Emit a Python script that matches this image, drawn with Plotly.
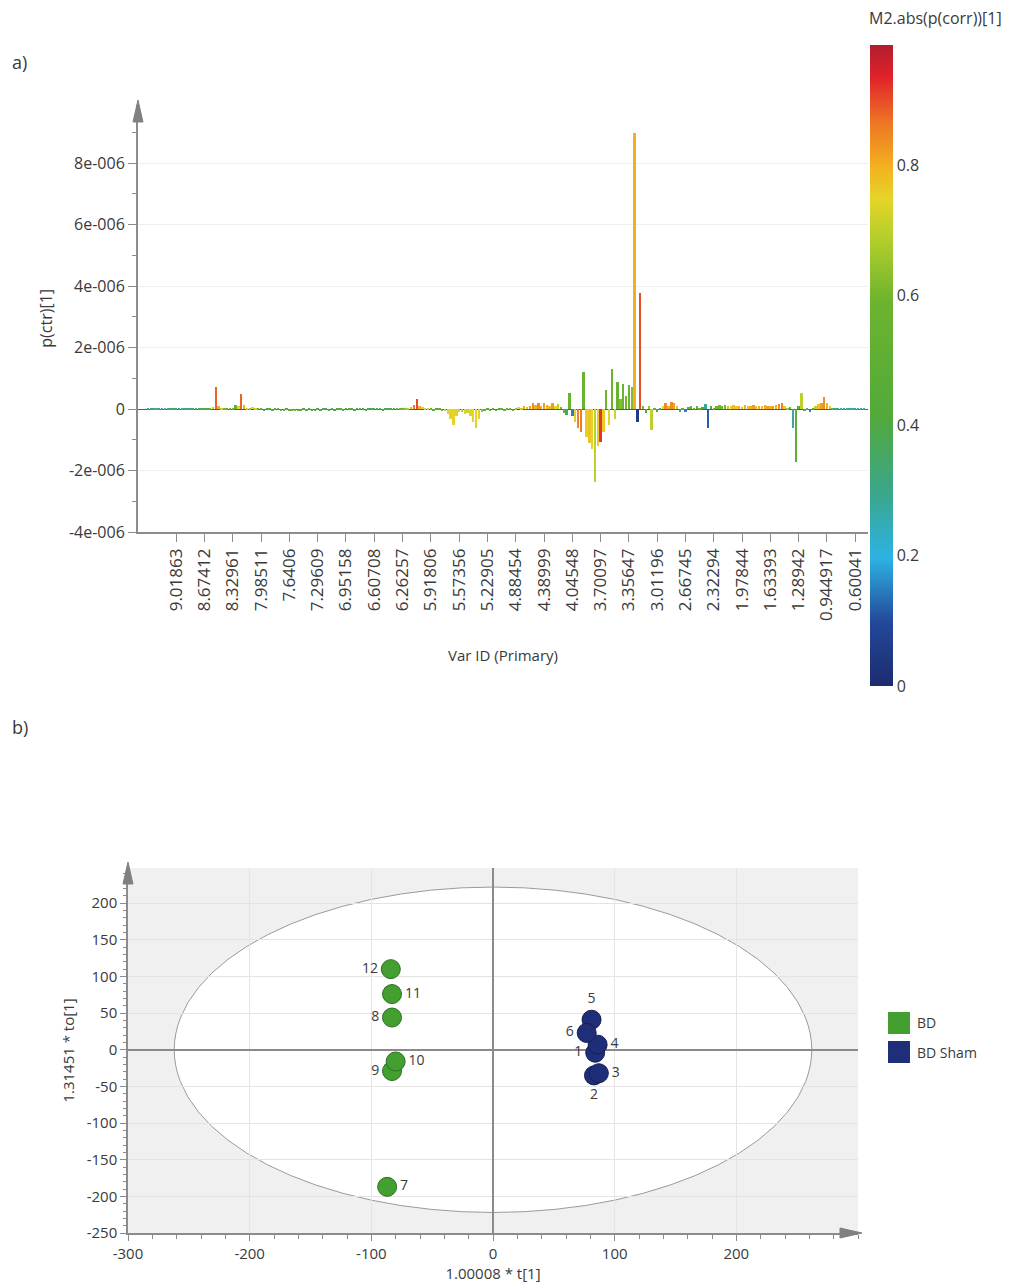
import plotly.graph_objects as go

# ---------------- DATA ----------------
# a) loading line plot: p(ctr)[1] (in units of 1e-6) per variable, coloured by abs(p(corr))[1]
p_ctr_e6 = [
    0.03, 0.04, 0.03, 0.04, 0.03, 0.03, 0.04, 0.03, 0.04, 0.03,
    0.03, 0.04, 0.03, 0.03, 0.04, 0.02, 0.03, 0.04, 0.03, 0.03,
    0.04, 0.03, 0.05, 0.08, 0.72, 0.12, 0.06, 0.04, 0.03, 0.05,
    0.06, 0.15, 0.10, 0.49, 0.14, 0.06, 0.04, 0.09, 0.06, 0.03,
    0.03, -0.03, 0.03, 0.04, -0.03, 0.03, 0.03, -0.04, -0.04, 0.03,
    -0.04, -0.05, -0.05, -0.04, -0.03, 0.03, -0.04, 0.04, -0.03, -0.04,
    0.03, -0.04, 0.03, 0.04, -0.03, 0.03, -0.04, 0.04, 0.03, -0.03,
    0.04, 0.03, 0.03, -0.04, 0.03, 0.04, 0.03, -0.03, 0.03, 0.04,
    0.03, 0.03, 0.04, -0.03, 0.03, 0.03, 0.04, 0.03, 0.03, 0.04,
    0.03, 0.04, 0.05, 0.08, 0.15, 0.33, 0.12, 0.08, 0.06, 0.05,
    0.03, -0.03, 0.03, 0.04, -0.04, -0.06, -0.15, -0.30, -0.52, -0.22,
    -0.10, -0.08, -0.14, -0.12, -0.22, -0.42, -0.60, -0.30, -0.10, -0.06,
    0.04, -0.05, 0.05, -0.04, 0.05, 0.04, -0.05, 0.06, 0.05, -0.04,
    0.06, 0.08, 0.05, 0.10, 0.08, 0.12, 0.20, 0.15, 0.22, 0.12,
    0.20, 0.15, 0.12, 0.22, 0.10, 0.18, 0.08, -0.12, -0.18, 0.52,
    -0.22, -0.40, -0.62, -0.75, 1.22, -0.90, -1.10, -1.30, -2.37, -1.20,
    -1.07, -0.75, 0.62, -0.50, 1.33, -0.30, 0.88, 0.35, 0.82, 0.45,
    0.80, 0.72, 9.00, -0.42, 3.77, 0.12, -0.12, 0.10, -0.68, 0.06,
    -0.10, 0.06, 0.10, 0.20, 0.12, 0.25, 0.22, 0.10, -0.08, 0.06,
    -0.10, 0.08, 0.12, 0.05, 0.10, 0.06, 0.08, 0.18, -0.62, 0.10,
    0.06, 0.10, 0.15, 0.12, 0.14, 0.10, 0.12, 0.15, 0.10, 0.12,
    0.08, 0.15, 0.10, 0.12, 0.15, 0.10, 0.12, 0.10, 0.14, 0.12,
    0.10, 0.12, 0.15, 0.18, 0.22, 0.10, 0.06, 0.08, -0.60, -1.72,
    0.10, 0.52, -0.05, 0.06, -0.08, 0.05, 0.10, 0.18, 0.20, 0.40,
    0.22, 0.12, 0.06, 0.04, 0.03, 0.04, 0.03, 0.03, 0.04, 0.03,
    0.03, 0.03, 0.02, 0.03,
]
abs_p_corr = [
    0.35, 0.30, 0.35, 0.25, 0.35, 0.30, 0.25, 0.35, 0.30, 0.35,
    0.30, 0.35, 0.25, 0.35, 0.30, 0.35, 0.30, 0.35, 0.30, 0.40,
    0.40, 0.45, 0.55, 0.70, 0.88, 0.80, 0.72, 0.60, 0.50, 0.55,
    0.60, 0.58, 0.75, 0.88, 0.80, 0.74, 0.65, 0.76, 0.72, 0.50,
    0.40, 0.35, 0.40, 0.45, 0.40, 0.45, 0.50, 0.50, 0.55, 0.45,
    0.50, 0.55, 0.55, 0.50, 0.45, 0.40, 0.50, 0.45, 0.40, 0.45,
    0.40, 0.45, 0.35, 0.40, 0.45, 0.35, 0.40, 0.45, 0.40, 0.35,
    0.40, 0.45, 0.40, 0.35, 0.40, 0.45, 0.40, 0.35, 0.40, 0.35,
    0.40, 0.35, 0.45, 0.40, 0.35, 0.40, 0.45, 0.40, 0.50, 0.55,
    0.60, 0.65, 0.70, 0.80, 0.86, 0.90, 0.80, 0.76, 0.74, 0.72,
    0.55, 0.50, 0.45, 0.50, 0.55, 0.70, 0.74, 0.75, 0.75, 0.74,
    0.72, 0.70, 0.74, 0.72, 0.74, 0.75, 0.75, 0.74, 0.65, 0.55,
    0.50, 0.55, 0.50, 0.45, 0.50, 0.55, 0.50, 0.55, 0.60, 0.50,
    0.65, 0.75, 0.70, 0.80, 0.78, 0.82, 0.84, 0.80, 0.84, 0.80,
    0.82, 0.80, 0.78, 0.82, 0.75, 0.70, 0.60, 0.55, 0.35, 0.58,
    0.15, 0.76, 0.85, 0.86, 0.58, 0.76, 0.77, 0.75, 0.70, 0.76,
    0.92, 0.76, 0.60, 0.74, 0.58, 0.72, 0.56, 0.62, 0.58, 0.60,
    0.58, 0.62, 0.80, 0.05, 0.90, 0.60, 0.45, 0.65, 0.70, 0.55,
    0.40, 0.30, 0.75, 0.84, 0.80, 0.84, 0.82, 0.70, 0.30, 0.50,
    0.15, 0.50, 0.55, 0.45, 0.55, 0.50, 0.40, 0.30, 0.12, 0.40,
    0.50, 0.58, 0.60, 0.58, 0.60, 0.70, 0.75, 0.78, 0.76, 0.80,
    0.78, 0.80, 0.78, 0.80, 0.82, 0.78, 0.80, 0.78, 0.80, 0.82,
    0.80, 0.82, 0.80, 0.84, 0.85, 0.76, 0.65, 0.55, 0.28, 0.50,
    0.45, 0.70, 0.30, 0.50, 0.15, 0.45, 0.70, 0.78, 0.82, 0.84,
    0.80, 0.72, 0.50, 0.35, 0.30, 0.25, 0.30, 0.25, 0.30, 0.25,
    0.30, 0.25, 0.30, 0.25,
]
var_tick_index = [10, 20, 30, 40, 50, 60, 70, 80, 90, 100, 110, 120, 130,
                  140, 150, 160, 170, 180, 190, 200, 210, 220, 230, 240, 250]
var_tick_labels = ["9.01863", "8.67412", "8.32961", "7.98511", "7.6406", "7.29609",
                   "6.95158", "6.60708", "6.26257", "5.91806", "5.57356", "5.22905",
                   "4.88454", "4.38999", "4.04548", "3.70097", "3.35647", "3.01196",
                   "2.66745", "2.32294", "1.97844", "1.63393", "1.28942", "0.944917",
                   "0.60041"]
y_tick_vals = [-4e-6, -2e-6, 0, 2e-6, 4e-6, 6e-6, 8e-6]
y_tick_text = ["-4e-006", "-2e-006", "0", "2e-006", "4e-006", "6e-006", "8e-006"]
cbar_ticks = [0, 0.2, 0.4, 0.6, 0.8]

# b) score plot
bd_ids = ["7", "8", "9", "10", "11", "12"]
bd_t = [-87, -83, -83, -80, -83, -84]
bd_to = [-187, 44, -29, -16, 76, 110]
sham_ids = ["1", "2", "3", "4", "5", "6"]
sham_t = [84, 83, 87, 86, 81, 77]
sham_to = [-4, -35, -32, 7, 41, 23]
ellipse_t = 262
ellipse_to = 222
score_x_ticks = [-300, -200, -100, 0, 100, 200]
score_y_ticks = [-250, -200, -150, -100, -50, 0, 50, 100, 150, 200]
groups = ["BD", "BD Sham"]

# ---------------- STYLE HELPERS ----------------
W, H = 1020, 1287
def px(x): return x / W
def py(y): return 1 - y / H

FONT = "Open Sans"
TXT = "#3a3a3a"
AX = "#8c8c8c"
GREEN = "#43a030"
NAVY = "#1f2e78"

colorscale = [
    [0.00, "#1d2b6e"], [0.10, "#23489a"], [0.20, "#2db3e3"], [0.30, "#3aa68c"],
    [0.42, "#52a93b"], [0.60, "#6cb42e"], [0.70, "#b5cf2b"], [0.76, "#e6d428"],
    [0.81, "#f3b11f"], [0.88, "#ee7424"], [0.95, "#e0222a"], [1.00, "#b21d2e"],
]
CMAX = 0.985

fig = go.Figure()

n = len(p_ctr_e6)
fig.add_trace(go.Bar(
    x=list(range(n)), y=[v * 1e-6 for v in p_ctr_e6],
    width=0.85, xaxis="x", yaxis="y", showlegend=False,
    marker=dict(color=abs_p_corr, colorscale=colorscale, cmin=0, cmax=CMAX,
                line=dict(width=0),
                colorbar=dict(x=px(870), xanchor="left", xpad=0, ypad=0,
                              y=py(365.5), yanchor="middle",
                              len=641, lenmode="pixels", thickness=23,
                              outlinewidth=0, ticks="",
                              tickvals=cbar_ticks,
                              ticktext=[("%g" % t) for t in cbar_ticks],
                              tickfont=dict(family=FONT, size=16, color=TXT))),
))

# score plot
fig.add_trace(go.Scatter(
    x=bd_t, y=bd_to, text=bd_ids, mode="markers+text", name=groups[0],
    xaxis="x2", yaxis="y2", showlegend=False,
    textposition=["middle right", "middle left", "middle left", "middle right",
                  "middle right", "middle left"],
    textfont=dict(family=FONT, size=14, color=TXT),
    marker=dict(size=19, color=GREEN, line=dict(color="#2d6e22", width=1)),
))
fig.add_trace(go.Scatter(
    x=sham_t, y=sham_to, text=sham_ids, mode="markers+text", name=groups[1],
    xaxis="x2", yaxis="y2", showlegend=False,
    textposition=["middle left", "bottom center", "middle right", "middle right",
                  "top center", "middle left"],
    textfont=dict(family=FONT, size=14, color=TXT),
    marker=dict(size=19, color=NAVY, line=dict(color="#151f55", width=1)),
))

fig.update_layout(
    width=W, height=H, margin=dict(l=0, r=0, t=0, b=0, autoexpand=False),
    paper_bgcolor="white", plot_bgcolor="white",
    font=dict(family=FONT, color=TXT),
    bargap=0, showlegend=False,
    xaxis=dict(domain=[px(138), px(868)], range=[-3.5, 254.5], automargin=False,
               tickvals=var_tick_index, ticktext=var_tick_labels, tickangle=-90,
               tickfont=dict(size=17, color=TXT), ticks="outside", ticklen=8,
               tickcolor=AX, showgrid=False, zeroline=False,
               showline=True, linecolor=AX, linewidth=1.5,
               title=dict(text="Var ID (Primary)", font=dict(size=15, color=TXT), standoff=30),
               anchor="y"),
    yaxis=dict(domain=[py(532), py(104.6)], range=[-4e-6, 9.9e-6], automargin=False,
               tickvals=y_tick_vals, ticktext=y_tick_text,
               tickfont=dict(size=16, color=TXT), ticks="outside", ticklen=8,
               tickcolor=AX, showgrid=True, gridcolor="#efefef",
               zeroline=True, zerolinecolor="#4a5a7a", zerolinewidth=1,
               showline=True, linecolor=AX, linewidth=2,
               minor=dict(dtick=1e-6, tick0=0, ticks="outside", ticklen=4,
                          tickcolor=AX, showgrid=False),
               title=dict(text="p(ctr)[1]", font=dict(size=16, color=TXT), standoff=12),
               anchor="x"),
    xaxis2=dict(domain=[px(128), px(858)], range=[-300, 300], automargin=False,
                tickvals=score_x_ticks, ticktext=[str(v) for v in score_x_ticks],
                tickfont=dict(size=15, color=TXT), ticks="outside", ticklen=6,
                tickcolor=AX, showgrid=True, gridcolor="#e4e4e4",
                zeroline=True, zerolinecolor="#8a8a8a", zerolinewidth=1.5,
                showline=True, linecolor=AX, linewidth=1.5,
                minor=dict(dtick=20, tick0=0, ticks="outside", ticklen=4,
                           tickcolor=AX, showgrid=False),
                title=dict(text="1.00008 * t[1]", font=dict(size=15, color=TXT), standoff=7),
                anchor="y2"),
    yaxis2=dict(domain=[py(1233), py(868)], range=[-250, 248], automargin=False,
                tickvals=score_y_ticks, ticktext=[str(v) for v in score_y_ticks],
                tickfont=dict(size=15, color=TXT), ticks="outside", ticklen=6,
                tickcolor=AX, showgrid=True, gridcolor="#e4e4e4",
                zeroline=True, zerolinecolor="#8a8a8a", zerolinewidth=1.5,
                showline=True, linecolor=AX, linewidth=1.5,
                minor=dict(dtick=10, tick0=0, ticks="outside", ticklen=3,
                           tickcolor=AX, showgrid=False),
                title=dict(text="1.31451 * to[1]", font=dict(size=15, color=TXT), standoff=8),
                anchor="x2"),
)

# gray outer region of the score plot with white Hotelling ellipse
fig.add_shape(type="rect", xref="x2", yref="y2", x0=-300, x1=300, y0=-250, y1=248,
              fillcolor="#f0f0f0", line=dict(width=0), layer="below")
fig.add_shape(type="circle", xref="x2", yref="y2",
              x0=-ellipse_t, x1=ellipse_t, y0=-ellipse_to, y1=ellipse_to,
              fillcolor="white", line=dict(color="#9a9a9a", width=1), layer="below")

# axis arrows
def tri(tip_x, tip_y, direction):
    if direction == "up":
        pts = [(tip_x, tip_y), (tip_x - 5, tip_y + 22), (tip_x + 5, tip_y + 22)]
    else:
        pts = [(tip_x, tip_y), (tip_x - 22, tip_y - 5), (tip_x - 22, tip_y + 5)]
    path = "M " + " L ".join("%f,%f" % (px(a), py(b)) for a, b in pts) + " Z"
    fig.add_shape(type="path", xref="paper", yref="paper", path=path,
                  fillcolor="#808080", line=dict(color="#808080", width=1))

tri(138, 100, "up")
tri(128, 862, "up")
tri(862, 1233, "right")

# legend of the score plot (group colour squares)
for name, col, yc in [(groups[0], GREEN, 1023), (groups[1], NAVY, 1052)]:
    fig.add_shape(type="rect", xref="paper", yref="paper",
                  x0=px(888), x1=px(910), y0=py(yc + 11), y1=py(yc - 11),
                  fillcolor=col, line=dict(width=0))
    fig.add_annotation(text=name, xref="paper", yref="paper", x=px(915), y=py(yc),
                       xanchor="left", yanchor="middle", showarrow=False,
                       font=dict(family=FONT, size=14, color=TXT))

# panel labels and colorbar title
for txt, x, y in [("a)", 10, 62), ("b)", 10, 727)]:
    fig.add_annotation(text=txt, xref="paper", yref="paper", x=px(x), y=py(y),
                       xanchor="left", yanchor="middle", showarrow=False,
                       font=dict(family=FONT, size=18, color=TXT))
fig.add_annotation(text="M2.abs(p(corr))[1]", xref="paper", yref="paper",
                   x=px(867), y=py(18), xanchor="left", yanchor="middle",
                   showarrow=False, font=dict(family=FONT, size=16, color=TXT))

fig.write_html("out.html")
